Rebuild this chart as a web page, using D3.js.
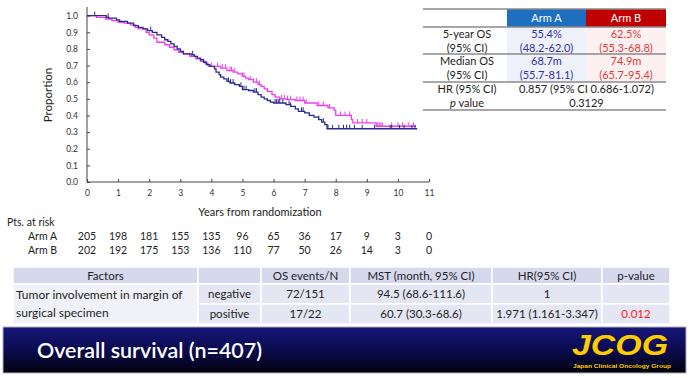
<!DOCTYPE html>
<html><head><meta charset="utf-8">
<script src="https://cdn.jsdelivr.net/npm/d3@7/dist/d3.min.js"></script>
<style>
html,body{margin:0;padding:0;background:#fff;}
svg{display:block;font-family:Lato,"Open Sans",sans-serif;}
</style></head>
<body><svg id="c" width="691" height="378"></svg>
<script>
// ---------- DATA ----------
const xTicks = [0,1,2,3,4,5,6,7,8,9,10,11];
const yTicks = [0,0.1,0.2,0.3,0.4,0.5,0.6,0.7,0.8,0.9,1.0];

const armATime = [0,0.62,0.7,0.95,1.05,1.3,1.5,1.65,1.8,1.95,2.1,2.25,2.4,2.5,2.6,2.7,2.8,2.9,3.0,3.1,3.35,3.45,3.55,3.65,3.75,3.85,3.95,4.1,4.15,4.25,4.3,4.4,4.5,4.6,4.75,4.9,5.0,5.2,5.35,5.5,5.6,5.7,5.8,5.9,6.0,6.4,6.55,6.7,6.8,7.0,7.15,7.3,7.45,7.55,7.65,7.72];
const armASurv = [1.0,0.99,0.985,0.975,0.965,0.955,0.94,0.93,0.92,0.91,0.9,0.885,0.87,0.855,0.845,0.83,0.815,0.8,0.785,0.77,0.765,0.755,0.745,0.735,0.72,0.705,0.695,0.68,0.66,0.645,0.63,0.62,0.605,0.595,0.585,0.575,0.555,0.55,0.54,0.525,0.51,0.5,0.49,0.48,0.475,0.465,0.455,0.44,0.425,0.415,0.4,0.39,0.375,0.36,0.345,0.32];
const armAEnd = 10.62;
const armACens = [0.25,0.68,2.05,3.4,4.55,4.62,4.7,4.95,5.05,5.12,5.4,5.45,6.05,6.1,6.15,6.2,6.3,6.5,6.55,6.9,6.95,7.45,7.6,7.75,7.9,8.1,8.25,8.35,8.45,8.6,8.85,9.25,9.75,9.8,10.05,10.2,10.45,10.55];

const armBTime = [0,0.3,0.6,0.8,1.0,1.2,1.4,1.55,1.65,1.9,2.0,2.15,2.25,2.5,2.65,2.8,2.95,3.1,3.3,3.5,3.65,3.8,3.9,4.3,4.5,4.7,4.85,5.0,5.1,5.2,5.35,5.5,5.6,5.7,5.8,5.95,6.05,6.2,6.4,6.7,7.0,7.4,7.75,7.95,8.0,8.5,8.55,9.3];
const armBSurv = [1.0,0.99,0.98,0.97,0.96,0.955,0.945,0.93,0.92,0.9,0.885,0.865,0.84,0.825,0.81,0.795,0.78,0.77,0.755,0.74,0.725,0.71,0.695,0.685,0.67,0.66,0.65,0.635,0.625,0.615,0.6,0.585,0.575,0.56,0.545,0.525,0.51,0.5,0.495,0.49,0.475,0.46,0.445,0.43,0.4,0.375,0.355,0.335];
const armBEnd = 10.58;
const armBCens = [4.0,4.2,4.35,4.45,4.6,4.65,4.75,5.0,5.05,5.25,5.35,5.45,5.55,6.25,6.35,6.45,6.55,6.75,6.85,6.95,7.05,7.45,7.6,7.8,8.15,8.3,8.45,8.7,8.85,9.0,9.35,9.4,9.45,9.5,9.8,10.0,10.15,10.35,10.5];

const riskLabels = ["Arm A","Arm B"];
const riskA = [205,198,181,155,135,96,65,36,17,9,3,0];
const riskB = [202,192,175,153,136,110,77,50,26,14,3,0];

const sumHeader = ["","Arm A","Arm B"];
const sumRowLabels = [["5-year OS","(95% CI)"],["Median OS","(95% CI)"]];
const sumArmA = [["55.4%","(48.2-62.0)"],["68.7m","(55.7-81.1)"]];
const sumArmB = [["62.5%","(55.3-68.8)"],["74.9m","(65.7-95.4)"]];
const hrLabel = "HR (95% CI)";
const hrValue = "0.857 (95% CI 0.686-1.072)";
const pValue = "0.3129";

const facHeader = ["Factors","","OS events/N","MST (month, 95% CI)","HR(95% CI)","p-value"];
const facName = ["Tumor involvement in margin of","surgical specimen"];
const facLevels = ["negative","positive"];
const facEvents = ["72/151","17/22"];
const facMST = ["94.5 (68.6-111.6)","60.7 (30.3-68.6)"];
const facHR = ["1","1.971 (1.161-3.347)"];
const facP = ["","0.012"];

const bannerTitle = "Overall survival (n=407)";

// ---------- CHART ----------
const svg = d3.select("#c");
svg.append("rect").attr("width",691).attr("height",378).attr("fill","#fff");

const x = d3.scaleLinear().domain([0,11]).range([87,429]);
const y = d3.scaleLinear().domain([0,1.052]).range([182,7]);

const gx = svg.append("g").attr("transform","translate(0,182)")
  .call(d3.axisBottom(x).tickValues(xTicks).tickSize(-3).tickSizeOuter(0).tickPadding(8).tickFormat(d3.format("d")));
const gy = svg.append("g").attr("transform","translate(87,0)")
  .call(d3.axisLeft(y).tickValues(yTicks).tickSize(-3).tickSizeOuter(0).tickPadding(9).tickFormat(d3.format(".1f")));
[gx,gy].forEach(g=>{
  g.selectAll("path,line").attr("stroke","#444").attr("stroke-width",1);
  g.selectAll("text").attr("fill","#333").style("font-size","8.5px").style("font-family","Lato,sans-serif");
});
gx.select(".domain").attr("d","M87,0H429");
gy.select(".domain").attr("d","M0,182V7");

svg.append("text").attr("transform","translate(52,95) rotate(-90)").attr("text-anchor","middle")
  .style("font-size","11.5px").attr("fill","#222").text("Proportion");
svg.append("text").attr("x",260).attr("y",216).attr("text-anchor","middle")
  .style("font-size","11px").attr("fill","#222").text("Years from randomization");

function drawArm(times, surv, end, cens, color){
  const pts = times.map((t,i)=>[t,surv[i]]);
  pts.push([end, surv[surv.length-1]]);
  const line = d3.line().x(d=>x(d[0])).y(d=>y(d[1])).curve(d3.curveStepAfter);
  svg.append("path").attr("d",line(pts)).attr("fill","none").attr("stroke",color).attr("stroke-width",1.3);
  const sAt = t => surv[Math.max(0,d3.bisectRight(times,t)-1)];
  svg.append("g").selectAll("line").data(cens).join("line")
    .attr("x1",d=>x(d)).attr("x2",d=>x(d))
    .attr("y1",d=>y(sAt(d))).attr("y2",d=>y(sAt(d))-4)
    .attr("stroke",color).attr("stroke-width",1);
}
drawArm(armBTime, armBSurv, armBEnd, armBCens, "#f03cf0");
drawArm(armATime, armASurv, armAEnd, armACens, "#2a2a8e");

// risk table
svg.append("text").attr("x",7).attr("y",226).style("font-size","10.5px").attr("fill","#222").text("Pts. at risk");
[riskA,riskB].forEach((arr,r)=>{
  const yy = 240 + r*14;
  svg.append("text").attr("x",28).attr("y",yy).style("font-size","10.5px").attr("fill","#222").text(riskLabels[r]);
  svg.append("g").selectAll("text").data(arr).join("text")
    .attr("x",(d,i)=>x(xTicks[i])).attr("y",yy).attr("text-anchor","middle")
    .style("font-size","10.5px").attr("fill","#222").text(d=>d);
});

// ---------- SUMMARY TABLE (top right) ----------
const st = svg.append("g");
const cL=423, cA=507, cB=586, cR=666;
const rowY=[9,27,54,82,110];
st.append("rect").attr("x",cA).attr("y",rowY[0]).attr("width",cB-cA).attr("height",rowY[1]-rowY[0]).attr("fill","#1f6fc0");
st.append("rect").attr("x",cB).attr("y",rowY[0]).attr("width",cR-cB).attr("height",rowY[1]-rowY[0]).attr("fill","#c00000");
st.append("rect").attr("x",cA).attr("y",rowY[1]).attr("width",cB-cA).attr("height",rowY[3]-rowY[1]).attr("fill","#eef0fa");
st.append("rect").attr("x",cB).attr("y",rowY[1]).attr("width",cR-cB).attr("height",rowY[3]-rowY[1]).attr("fill","#fdf0f0");
rowY.forEach(yy=>st.append("line").attr("x1",cL).attr("x2",cR).attr("y1",yy).attr("y2",yy).attr("stroke","#8a8a8a").attr("stroke-width",1.4));
const fs="11px";
st.append("text").attr("x",(cA+cB)/2).attr("y",22).attr("text-anchor","middle").style("font-size",fs).attr("fill","#fff").text(sumHeader[1]);
st.append("text").attr("x",(cB+cR)/2).attr("y",22).attr("text-anchor","middle").style("font-size",fs).attr("fill","#fff").text(sumHeader[2]);
[0,1].forEach(r=>{
  [0,1].forEach(l=>{
    const yy = rowY[r+1] + 11 + l*13.5;
    st.append("text").attr("x",467).attr("y",yy).attr("text-anchor","middle").style("font-size",fs).attr("fill","#222").text(sumRowLabels[r][l]);
    st.append("text").attr("x",(cA+cB)/2).attr("y",yy).attr("text-anchor","middle").style("font-size",fs).attr("fill","#3333a8").text(sumArmA[r][l]);
    st.append("text").attr("x",(cB+cR)/2).attr("y",yy).attr("text-anchor","middle").style("font-size",fs).attr("fill","#e03a3a").text(sumArmB[r][l]);
  });
});
st.append("text").attr("x",467).attr("y",93).attr("text-anchor","middle").style("font-size",fs).attr("fill","#222").text(hrLabel);
const pl = st.append("text").attr("x",467).attr("y",106.5).attr("text-anchor","middle").style("font-size",fs).attr("fill","#222");
pl.append("tspan").style("font-style","italic").text("p");
pl.append("tspan").text(" value");
st.append("text").attr("x",(cA+cR)/2).attr("y",93).attr("text-anchor","middle").style("font-size",fs).attr("fill","#222").text(hrValue);
st.append("text").attr("x",(cA+cR)/2).attr("y",106.5).attr("text-anchor","middle").style("font-size",fs).attr("fill","#222").text(pValue);

// ---------- FACTOR TABLE (bottom) ----------
const ft = svg.append("g");
const cols=[13,198,261,350,492,602,670];
const frows=[267,284,304,324];
for(let r=0;r<3;r++){
  for(let c=0;c<6;c++){
    if(r===2 && c===0) continue;
    let h = frows[r+1]-frows[r];
    if(r===1 && c===0) h = frows[3]-frows[1];
    const fill = r===0 ? "#d6d9ee" : (c===0 ? "#f1f2f8" : "#e4e6f3");
    ft.append("rect").attr("x",cols[c]).attr("y",frows[r]).attr("width",cols[c+1]-cols[c]).attr("height",h)
      .attr("fill",fill).attr("stroke","#fff").attr("stroke-width",1.5);
  }
}
const ffs="11.5px";
facHeader.forEach((t,c)=>{
  ft.append("text").attr("x",(cols[c]+cols[c+1])/2).attr("y",280).attr("text-anchor","middle").style("font-size",ffs).attr("fill","#222").text(t);
});
ft.append("text").attr("x",16).attr("y",299).style("font-size","12px").attr("fill","#222").text(facName[0]);
ft.append("text").attr("x",16).attr("y",317).style("font-size","12px").attr("fill","#222").text(facName[1]);
[0,1].forEach(r=>{
  const yy = 298 + r*20;
  const vals=[facLevels[r],facEvents[r],facMST[r],facHR[r],facP[r]];
  vals.forEach((v,i)=>{
    const c=i+1;
    ft.append("text").attr("x",(cols[c]+cols[c+1])/2).attr("y",yy).attr("text-anchor","middle").style("font-size",ffs)
      .attr("fill", c===5 ? "#ff2020" : "#222").text(v);
  });
});

// ---------- BANNER ----------
const defs = svg.append("defs");
const gr = defs.append("linearGradient").attr("id","bg").attr("x1",0).attr("x2",0).attr("y1",0).attr("y2",1);
gr.append("stop").attr("offset","0%").attr("stop-color","#16167a");
gr.append("stop").attr("offset","55%").attr("stop-color","#0a0a4a");
gr.append("stop").attr("offset","100%").attr("stop-color","#02020c");
svg.append("rect").attr("x",3).attr("y",327).attr("width",683).attr("height",46).attr("fill","url(#bg)").attr("stroke","#b0b0b8").attr("stroke-width",1);
svg.append("text").attr("x",37).attr("y",358).style("font-size","21px").style("font-weight","600").attr("fill","#fff")
  .attr("textLength",225).attr("lengthAdjust","spacingAndGlyphs").text(bannerTitle);
svg.append("text").attr("x",572).attr("y",355).style("font-family","'Liberation Sans',Arial,sans-serif")
  .style("font-size","29px").style("font-weight","bold").style("font-style","italic").attr("fill","#ffcc00")
  .attr("textLength",96).attr("lengthAdjust","spacingAndGlyphs").text("JCOG");
svg.append("text").attr("x",573).attr("y",367.5).style("font-family","'Liberation Sans',Arial,sans-serif")
  .style("font-size","5.5px").style("font-weight","bold").attr("fill","#ffcc00")
  .attr("textLength",98).attr("lengthAdjust","spacingAndGlyphs").text("Japan Clinical Oncology Group");
</script></body></html>
